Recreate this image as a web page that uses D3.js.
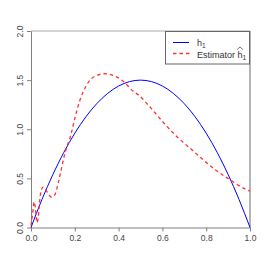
<!DOCTYPE html>
<html>
<head>
<meta charset="utf-8">
<script src="https://cdn.jsdelivr.net/npm/d3@7"></script>
<style>
  body { margin: 0; background: #fff; }
  svg text { font-family: "Liberation Sans", Arial, sans-serif; }
</style>
</head>
<body>
<svg id="chart"></svg>
<script>
var width = 266;
var height = 266;

// true density h1
var trueX = [0, 0.05, 0.1, 0.15, 0.2, 0.25, 0.3, 0.35, 0.4, 0.45, 0.5, 0.55, 0.6, 0.65, 0.7, 0.75, 0.8, 0.85, 0.9, 0.95, 1];
var trueY = [0, 0.285, 0.54, 0.765, 0.96, 1.125, 1.26, 1.365, 1.44, 1.485, 1.5, 1.485, 1.44, 1.365, 1.26, 1.125, 0.96, 0.765, 0.54, 0.285, 0];

// estimator
var estX = [0, 0.008, 0.014, 0.02, 0.027, 0.033, 0.04, 0.047, 0.055, 0.065, 0.08, 0.093, 0.108, 0.126, 0.139, 0.151, 0.165, 0.178, 0.2, 0.224, 0.254, 0.292, 0.338, 0.384, 0.42, 0.467, 0.49, 0.55, 0.6, 0.656, 0.74, 0.84, 0.907, 0.983, 1];
var estY = [0.02, 0.15, 0.26, 0.2, 0.05, 0.1, 0.28, 0.38, 0.41, 0.39, 0.34, 0.31, 0.33, 0.47, 0.6, 0.72, 0.83, 0.91, 1.11, 1.3, 1.45, 1.54, 1.565, 1.54, 1.49, 1.386, 1.35, 1.21, 1.08, 0.947, 0.78, 0.59, 0.488, 0.386, 0.37];

var xTicks = [0, 0.2, 0.4, 0.6, 0.8, 1];
var yTicks = [0, 0.5, 1, 1.5, 2];
var legendLabels = ["h", "Estimator "];

var svg = d3.select("#chart")
    .attr("width", width)
    .attr("height", height);

var x = d3.scaleLinear().domain([0, 1]).range([31, 250]);
var y = d3.scaleLinear().domain([0, 2]).range([227.5, 31]);

// frame (lighter gray top/right)
svg.append("line")
    .attr("x1", x(0)).attr("x2", x(1))
    .attr("y1", y(2)).attr("y2", y(2))
    .attr("stroke", "#aaa").attr("stroke-width", 1);
svg.append("line")
    .attr("x1", x(1)).attr("x2", x(1))
    .attr("y1", y(2)).attr("y2", y(0))
    .attr("stroke", "#b5b5b5").attr("stroke-width", 2);

var xAxis = svg.append("g")
    .attr("transform", "translate(0," + y(0) + ")")
    .call(d3.axisBottom(x).tickValues(xTicks).tickFormat(d3.format(".1f")).tickSize(4).tickSizeOuter(0));
var yAxis = svg.append("g")
    .attr("transform", "translate(" + x(0) + ",0)")
    .call(d3.axisLeft(y).tickValues(yTicks).tickFormat(d3.format(".1f")).tickSize(4).tickSizeOuter(0));

[xAxis, yAxis].forEach(function(a) {
    a.select(".domain").attr("stroke", "#808080");
    a.selectAll(".tick line").attr("stroke", "#808080");
    a.selectAll(".tick text")
        .attr("fill", "#444")
        .style("font-size", "8.5px")
        .attr("font-family", null);
});
xAxis.selectAll(".tick text").attr("y", 7);
yAxis.selectAll(".tick text")
    .attr("x", null).attr("dy", null)
    .attr("text-anchor", "middle")
    .attr("transform", "translate(-8,0) rotate(-90)");

var line = d3.line().curve(d3.curveMonotoneX);

svg.append("path")
    .attr("d", line(trueX.map(function(v, i) { return [x(v), y(trueY[i])]; })))
    .attr("fill", "none")
    .attr("stroke", "#0000ff")
    .attr("stroke-width", 1);

svg.append("path")
    .attr("d", line(estX.map(function(v, i) { return [x(v), y(estY[i])]; })))
    .attr("fill", "none")
    .attr("stroke", "#ff3030")
    .attr("stroke-width", 1.3)
    .attr("stroke-dasharray", "3.5,3");

// legend
var lg = svg.append("g");
lg.append("rect")
    .attr("x", 165.5).attr("y", 31.5)
    .attr("width", 84).attr("height", 32.5)
    .attr("fill", "#fff")
    .attr("stroke", "#666");
lg.append("line")
    .attr("x1", 173).attr("x2", 189).attr("y1", 42.5).attr("y2", 42.5)
    .attr("stroke", "#0000ff").attr("stroke-width", 1);
lg.append("line")
    .attr("x1", 173).attr("x2", 190).attr("y1", 53.5).attr("y2", 53.5)
    .attr("stroke", "#ff3030").attr("stroke-width", 1.3)
    .attr("stroke-dasharray", "3.5,3");

var t1 = lg.append("text").attr("x", 197).attr("y", 45.5)
    .style("font-size", "9px").attr("fill", "#333");
t1.append("tspan").text(legendLabels[0]);
t1.append("tspan").attr("dy", 2).style("font-size", "6.5px").text("1");

var t2 = lg.append("text").attr("x", 197).attr("y", 57.5)
    .style("font-size", "9px").attr("fill", "#333");
t2.append("tspan").text(legendLabels[1]);
var hSpan = t2.append("tspan").text("h");
t2.append("tspan").attr("dy", 2).style("font-size", "6.5px").text("1");

// wide hat over the h
var hb = hSpan.node().getExtentOfChar(0);
lg.append("path")
    .attr("d", "M" + (hb.x - 0.3) + "," + (hb.y) + " L" + (hb.x + hb.width / 2) + "," + (hb.y - 2.5) + " L" + (hb.x + hb.width + 0.3) + "," + (hb.y))
    .attr("fill", "none")
    .attr("stroke", "#333")
    .attr("stroke-width", 0.7);
</script>
</body>
</html>
